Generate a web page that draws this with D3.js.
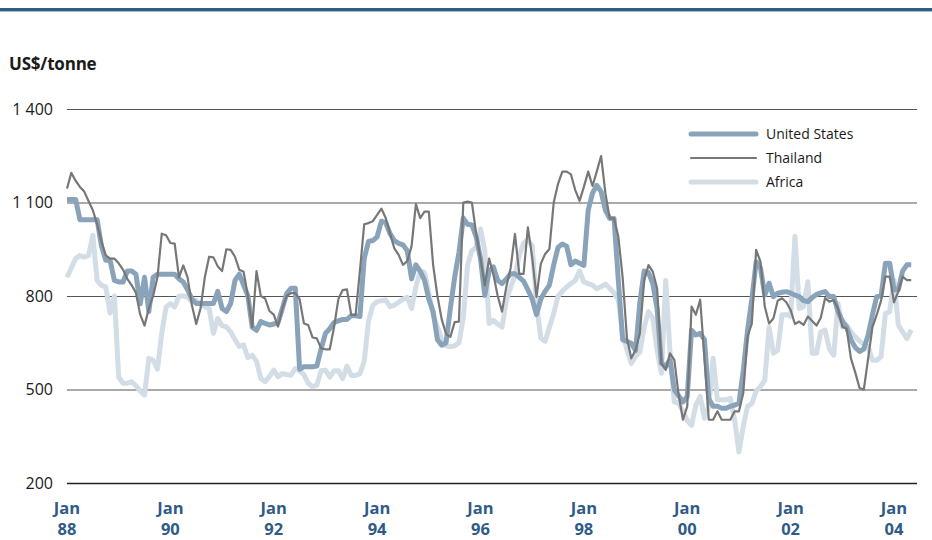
<!DOCTYPE html>
<html><head><meta charset="utf-8">
<script src="https://cdn.jsdelivr.net/npm/d3@7/dist/d3.min.js"></script>
<style>body{margin:0;background:#fff}svg{display:block}</style>
</head><body><svg id="chart" width="932" height="540"></svg>
<script>
// Monthly series, Jan 1988 (index 0) onwards, US$/tonne
const startYear = 1988;
const seriesNames = ["United States", "Thailand", "Africa"];
const usValues = [
1110,1110,1110,1045,1045,1045,1045,1045,960,915,
915,850,845,845,880,880,870,775,860,750,
860,870,870,870,870,870,855,845,820,790,
776,776,776,776,776,815,760,750,776,850,
870,835,800,700,690,718,712,707,710,715,
760,808,825,825,565,573,573,573,575,630,
680,695,715,720,725,725,737,737,734,920,
975,978,990,1040,1035,1000,978,969,964,945,
855,900,880,851,790,750,660,642,650,760,
860,940,1050,1030,1028,990,920,802,880,893,
850,840,855,871,871,860,848,820,790,740,
790,815,835,900,956,967,960,900,912,905,
898,1075,1130,1155,1135,1075,1049,1049,850,660,
654,648,625,780,880,875,840,760,584,574,
595,499,480,460,478,690,675,680,660,470,
446,446,440,440,446,450,456,560,690,790,
910,890,803,841,798,809,812,814,809,803,
798,785,782,795,805,810,814,798,798,750,
720,700,660,635,622,630,675,740,798,800,
905,905,820,820,880,900,900];
const thailandValues = [
1145,1195,1170,1150,1135,1105,1075,1030,975,930,
920,920,905,885,855,835,810,740,705,760,
800,860,1000,995,970,968,860,898,860,770,
710,760,860,926,924,895,880,950,948,926,
884,878,800,700,880,800,792,752,740,702,
760,800,809,809,790,712,707,667,664,632,
629,629,700,790,819,821,739,739,880,1030,
1034,1040,1060,1080,1050,1000,953,932,900,912,
960,1095,1050,1071,1071,900,800,725,678,669,
716,718,1100,1103,1100,1000,920,834,920,868,
800,750,830,890,999,871,871,1020,924,797,
903,935,951,1100,1160,1199,1199,1190,1140,1105,
1150,1199,1153,1200,1249,1130,1049,1049,990,860,
665,600,627,680,850,899,878,825,584,563,
616,595,483,403,446,766,740,788,600,403,
403,430,403,403,403,430,430,488,670,712,
948,910,766,712,728,785,793,780,755,710,
718,707,734,720,705,730,793,782,787,760,
701,696,600,555,505,500,600,700,740,785,
862,862,780,814,862,851,851];
const africaValues = [
860,890,920,930,925,930,995,850,834,829,
745,800,540,520,520,525,512,495,482,600,
594,565,680,765,775,765,800,800,797,781,
786,775,766,760,680,728,705,701,685,660,
638,643,602,610,590,535,525,541,562,541,
551,548,546,567,560,548,520,509,514,560,
562,540,560,560,535,575,545,545,551,590,
720,770,782,785,787,766,771,780,790,796,
760,830,880,875,810,740,700,659,640,637,
640,650,730,900,945,956,1015,946,712,722,
710,700,786,829,865,930,970,980,962,776,
665,655,700,744,800,815,829,840,850,880,
845,840,835,823,830,838,825,809,787,680,
627,584,606,620,700,750,729,627,552,850,
620,460,456,430,400,385,450,478,408,446,
600,467,467,467,472,403,300,381,446,455,
495,509,530,700,616,626,740,740,735,991,
760,766,846,616,616,685,691,630,610,776,
701,707,685,669,655,645,638,594,594,605,
744,750,851,707,685,663,691];
const yTicks = [200, 500, 800, 1100, 1400];
const xTickYears = [1988, 1990, 1992, 1994, 1996, 1998, 2000, 2002, 2004];
const xTickLabels = ["88", "90", "92", "94", "96", "98", "00", "02", "04"];

const svg = d3.select("#chart");
const FONT = "'Open Sans', 'Noto Sans', sans-serif";

const x = d3.scaleLinear().domain([0, 192]).range([67, 894]);
const y = d3.scaleLinear().domain([200, 1400]).range([483, 109]);

// top rule
svg.append("rect").attr("x", 0).attr("y", 8).attr("width", 932).attr("height", 3).attr("fill", "#2f5b87");
svg.append("rect").attr("x", 0).attr("y", 11).attr("width", 932).attr("height", 1).attr("fill", "#a9bccd");

// unit label
svg.append("text").attr("x", 9).attr("y", 70).text("US$/tonne")
  .attr("font-family", FONT).attr("font-weight", 700).attr("font-size", 17).attr("fill", "#1a1a1a")
  .attr("letter-spacing", -0.2);

// y axis grid + labels
const yAxis = d3.axisLeft(y).tickValues(yTicks).tickSize(-(917 - 67))
  .tickFormat(d => d3.format(",")(d).replace(",", " "));
const gy = svg.append("g").attr("transform", "translate(67,0)").call(yAxis);
gy.select(".domain").remove();
gy.selectAll(".tick line").attr("stroke", d => d === 200 ? "#222" : "#555").attr("stroke-width", d => d === 200 ? 1.3 : 1);
gy.selectAll(".tick text").attr("x", -14).attr("font-family", FONT).attr("font-size", 16).attr("fill", "#1a1a1a");

// x axis labels
const xTicks = xTickYears.map(yr => (yr - startYear) * 12);
const gx = svg.append("g");
xTicks.forEach((m, k) => {
  const t = gx.append("text").attr("x", x(m)).attr("text-anchor", "middle")
    .attr("font-family", FONT).attr("font-weight", 700).attr("font-size", 16.5).attr("fill", "#2f5b87");
  t.append("tspan").attr("x", x(m)).attr("y", 514).text("Jan");
  t.append("tspan").attr("x", x(m)).attr("y", 535).text(xTickLabels[k]);
});

// lines
const line = d3.line().x((d, i) => x(i)).y(d => y(d));
const styles = [
  {name: seriesNames[2], values: africaValues, color: "#d3dde6", width: 5},
  {name: seriesNames[0], values: usValues, color: "#88a3ba", width: 5},
  {name: seriesNames[1], values: thailandValues, color: "#777777", width: 2.2}
];
styles.forEach(s => {
  svg.append("path").datum(s.values).attr("d", line)
    .attr("fill", "none").attr("stroke", s.color).attr("stroke-width", s.width)
    .attr("stroke-linejoin", "round").attr("stroke-linecap", "butt");
});

// legend
const legendOrder = [styles[1], styles[2], styles[0]];
const leg = svg.append("g");
const legYs = [134, 158, 182];
legendOrder.forEach((s, k) => {
  leg.append("line").attr("x1", 691).attr("x2", 756).attr("y1", legYs[k]).attr("y2", legYs[k])
    .attr("stroke", s.color).attr("stroke-width", s.width).attr("stroke-linecap", "round");
  leg.append("text").attr("x", 766).attr("y", legYs[k] + 5).text(s.name)
    .attr("font-family", FONT).attr("font-size", 14).attr("fill", "#1a1a1a");
});
</script></body></html>
